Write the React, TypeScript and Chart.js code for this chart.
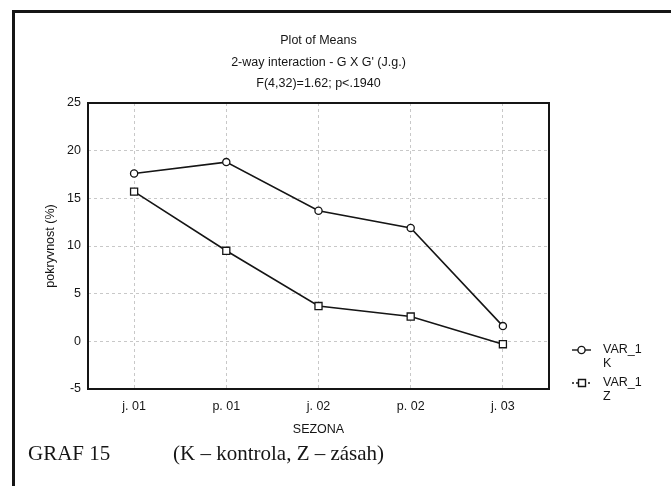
import React, { useEffect, useRef } from "react";
import { Chart, registerables } from "chart.js";

Chart.register(...registerables);

const categories = ["j. 01", "p. 01", "j. 02", "p. 02", "j. 03"];
const kontrolaValues = [17.6, 18.8, 13.7, 11.9, 1.6];
const zasahValues = [15.7, 9.5, 3.7, 2.6, -0.3];
const titleLines = ["Plot of Means", "2-way interaction - G X G' (J.g.)", "F(4,32)=1.62; p<.1940"];
const legendK = ["VAR_1", "K"];
const legendZ = ["VAR_1", "Z"];
const yMin = -5;
const yMax = 25;
const yStep = 5;
const xTitle = "SEZONA";
const yTitle = "pokryvnost (%)";
const captionLeft = "GRAF 15";
const captionRight = "(K – kontrola, Z – zásah)";

const W = 671;
const H = 486;
const SANS = '"Liberation Sans", Arial, sans-serif';
const SERIF = '"Liberation Serif", "Times New Roman", serif';
const INK = "#151515";

const decorPlugin = {
  id: "decor",
  afterDraw(chart: any) {
    const { ctx, chartArea: a } = chart;
    ctx.save();
    // plot border
    ctx.setLineDash([]);
    ctx.strokeStyle = INK;
    ctx.lineWidth = 2;
    ctx.strokeRect(a.left, a.top, a.right - a.left, a.bottom - a.top);
    // outer frame (left and top)
    ctx.fillStyle = INK;
    ctx.fillRect(12, 10, 3, H - 10);
    ctx.fillRect(12, 10, W - 12, 3);

    // legend
    const drawRow = (y: number, labels: string[], square: boolean) => {
      ctx.strokeStyle = INK;
      ctx.lineWidth = 1.4;
      ctx.setLineDash(square ? [2, 2] : []);
      ctx.beginPath();
      ctx.moveTo(572, y);
      ctx.lineTo(591, y);
      ctx.stroke();
      ctx.setLineDash([]);
      ctx.fillStyle = "#fff";
      ctx.beginPath();
      if (square) {
        ctx.rect(578.5, y - 3.5, 7, 7);
      } else {
        ctx.arc(581.5, y, 3.6, 0, Math.PI * 2);
      }
      ctx.fill();
      ctx.stroke();
      ctx.fillStyle = INK;
      ctx.font = "12.5px " + SANS;
      ctx.textBaseline = "middle";
      ctx.textAlign = "left";
      ctx.fillText(labels[0], 603, y);
      ctx.fillText(labels[1], 603, y + 13.5);
    };
    drawRow(350, legendK, false);
    drawRow(383, legendZ, true);

    // caption
    ctx.fillStyle = INK;
    ctx.font = "21px " + SERIF;
    ctx.textBaseline = "alphabetic";
    ctx.textAlign = "left";
    ctx.fillText(captionLeft, 28, 460);
    ctx.fillText(captionRight, 173, 460);
    ctx.restore();
  },
};

export default function App() {
  const ref = useRef<HTMLCanvasElement | null>(null);

  useEffect(() => {
    if (!ref.current) return;
    const chart = new Chart(ref.current, {
      type: "line",
      data: {
        labels: categories,
        datasets: [
          {
            label: "VAR_1 K",
            data: kontrolaValues,
            borderColor: INK,
            borderWidth: 1.6,
            pointStyle: "circle",
            pointRadius: 3.6,
            pointBorderWidth: 1.3,
            pointBackgroundColor: "#fff",
            pointBorderColor: INK,
            tension: 0,
          },
          {
            label: "VAR_1 Z",
            data: zasahValues,
            borderColor: INK,
            borderWidth: 1.6,
            pointStyle: "rect",
            pointRadius: 5,
            pointBorderWidth: 1.3,
            pointBackgroundColor: "#fff",
            pointBorderColor: INK,
            tension: 0,
          },
        ],
      },
      options: {
        responsive: false,
        animation: false,
        layout: { padding: { top: 0, left: 0, right: 122, bottom: 0 } },
        plugins: {
          legend: { display: false },
          tooltip: { enabled: false },
          title: {
            display: true,
            fullSize: false,
            text: titleLines,
            color: INK,
            font: { family: SANS, size: 12.5, weight: "normal", lineHeight: "21.5px" },
            padding: { top: 30, bottom: 8.5 },
          },
        },
        scales: {
          x: {
            type: "category",
            offset: true,
            grid: { display: true, color: "#c8c8c8", drawTicks: false, offset: false },
            border: { display: false, dash: [3, 3] },
            ticks: { color: INK, font: { family: SANS, size: 12.5 }, padding: 10, maxRotation: 0 },
            title: {
              display: true,
              text: xTitle,
              color: INK,
              font: { family: SANS, size: 12.5 },
              padding: { top: 0, bottom: 49 },
            },
            afterFit(scale: any) {
              scale.height = H - 389;
            },
          },
          y: {
            min: yMin,
            max: yMax,
            grid: { display: true, color: "#c8c8c8", drawTicks: false },
            border: { display: false, dash: [3, 3] },
            ticks: { stepSize: yStep, color: INK, font: { family: SANS, size: 12.5 }, padding: 7 },
            title: {
              display: true,
              text: yTitle,
              color: INK,
              font: { family: SANS, size: 12.5 },
              padding: { top: 43, bottom: 0 },
            },
            afterFit(scale: any) {
              scale.width = 88;
            },
          },
        },
      },
      plugins: [decorPlugin],
    });
    return () => chart.destroy();
  }, []);

  return (
    <div style={{ position: "absolute", left: 0, top: 0, width: W, height: H, background: "#fff" }}>
      <canvas ref={ref} width={W} height={H} style={{ display: "block" }} />
    </div>
  );
}
